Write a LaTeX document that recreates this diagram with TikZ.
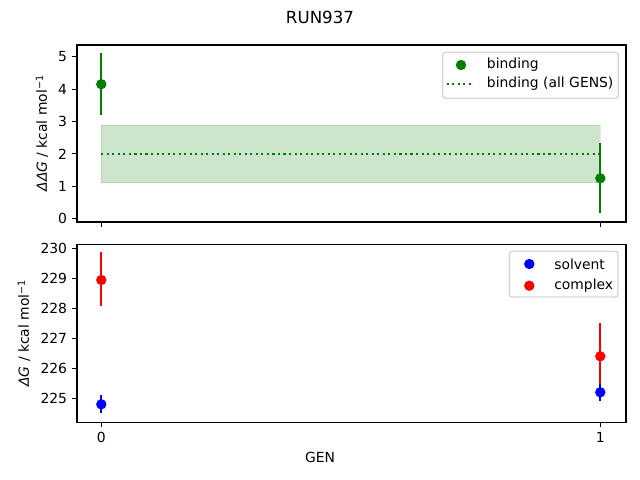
\documentclass[tikz,border=0pt]{standalone}
\usepackage{fontspec}
\setmainfont{DejaVu Sans}
\definecolor{mplgreen}{HTML}{008000}
\definecolor{mplblue}{HTML}{0000FF}
\definecolor{mplred}{HTML}{FF0000}
\definecolor{legedge}{HTML}{CCCCCC}
\newcommand{\supm}{\raisebox{0.55ex}{\fontsize{7}{8}\selectfont −1}}
\begin{document}
\begin{tikzpicture}[x=0.72pt,y=-0.72pt,font=\fontsize{10}{12}\selectfont,
  axbox/.style={draw=black,line width=0.75pt},
  tickmark/.style={draw=black,line width=0.75pt},
  ylab/.style={anchor=east,inner sep=0pt},
  xlab/.style={anchor=north,inner sep=0pt},
  errbar/.style={line width=1.5pt},
  dot/.style={line width=1pt},
  legbox/.style={draw=legedge,fill=white,fill opacity=0.8,draw opacity=0.8,line width=1pt,rounded corners=2pt},
  legtext/.style={anchor=west,inner sep=0pt}]
\useasboundingbox (0,0) rectangle (640,480);
\fill[white] (0,0) rectangle (640,480);
\node (title) at (320,17) {\fontsize{12}{14}\selectfont RUN937};

% ---------- top axes ----------
\fill[mplgreen,fill opacity=0.2] (101.3,125.3) rectangle (600.3,182.7);
\draw[mplgreen,opacity=0.12,line width=1pt] (101.3,125.3) rectangle (600.3,182.7);
\draw[mplgreen,line width=1.5pt,dash pattern=on 1.5pt off 2.475pt] (101.3,154) -- (600.3,154);
\draw[mplgreen,errbar] (101.3,53.3) -- (101.3,114.7);
\filldraw[mplgreen,dot] (101.3,84.2) circle[radius=3.2pt];
\draw[mplgreen,errbar] (600.3,143.3) -- (600.3,213.3);
\filldraw[mplgreen,dot] (600.3,178.3) circle[radius=3.2pt];
\draw[axbox] (77,45) rectangle (626,222);
\foreach \v/\yy in {0/218.7,1/186.3,2/153.9,3/121.5,4/89.1,5/56.7}{
  \draw[tickmark] (77,\yy) -- ++(-4.9,0);
  \node[ylab] (ty\v) at (67.3,\yy) {\v};
}
\draw[tickmark] (101.3,222) -- ++(0,4.9);
\draw[tickmark] (600.3,222) -- ++(0,4.9);
\node[rotate=90] (ylabtop) at (42,133.5) {{\itshape ΔΔG} / kcal mol\supm};
% legend top
\draw[legbox] (442.7,52.3) rectangle (618.3,98.3);
\filldraw[mplgreen,dot] (461,65) circle[radius=3.2pt];
\node[legtext] (lb1) at (486.7,65) {binding};
\draw[mplgreen,line width=1.5pt,dash pattern=on 1.5pt off 2.475pt] (446.7,84) -- (474.3,84);
\node[legtext] (lb2) at (486.7,84) {binding (all GENS)};

% ---------- bottom axes ----------
\draw[mplred,errbar] (101.3,252.3) -- (101.3,306.3);
\filldraw[mplred,dot] (101.3,280) circle[radius=3.2pt];
\draw[mplred,errbar] (600.3,323.3) -- (600.3,389.3);
\filldraw[mplred,dot] (600.3,356.3) circle[radius=3.2pt];
\draw[mplblue,errbar] (101.3,395.3) -- (101.3,413.3);
\filldraw[mplblue,dot] (101.3,404.3) circle[radius=3.2pt];
\draw[mplblue,errbar] (600.3,384) -- (600.3,400.7);
\filldraw[mplblue,dot] (600.3,392.3) circle[radius=3.2pt];
\draw[axbox] (77,244.3) rectangle (626,422.3);
\foreach \v/\yy in {225/398.3,226/368.3,227/338.3,228/308.3,229/278.3,230/248.3}{
  \draw[tickmark] (77,\yy) -- ++(-4.9,0);
  \node[ylab] (by\v) at (67.3,\yy) {\v};
}
\draw[tickmark] (101.3,422.3) -- ++(0,4.9);
\draw[tickmark] (600.3,422.3) -- ++(0,4.9);
\node[xlab] (bx0) at (101.3,432) {0};
\node[xlab] (bx1) at (600.3,432) {1};
\node (xlabel) at (320,457) {GEN};
\node[rotate=90] (ylabbot) at (24,333.3) {{\itshape ΔG} / kcal mol\supm};
% legend bottom
\draw[legbox] (509.3,251.3) rectangle (618,297);
\filldraw[mplblue,dot] (529.3,264) circle[radius=3.2pt];
\node[legtext] (ls1) at (554,264) {solvent};
\filldraw[mplred,dot] (529.3,285.7) circle[radius=3.2pt];
\node[legtext] (ls2) at (554,285.7) {complex};
\end{tikzpicture}
\end{document}
